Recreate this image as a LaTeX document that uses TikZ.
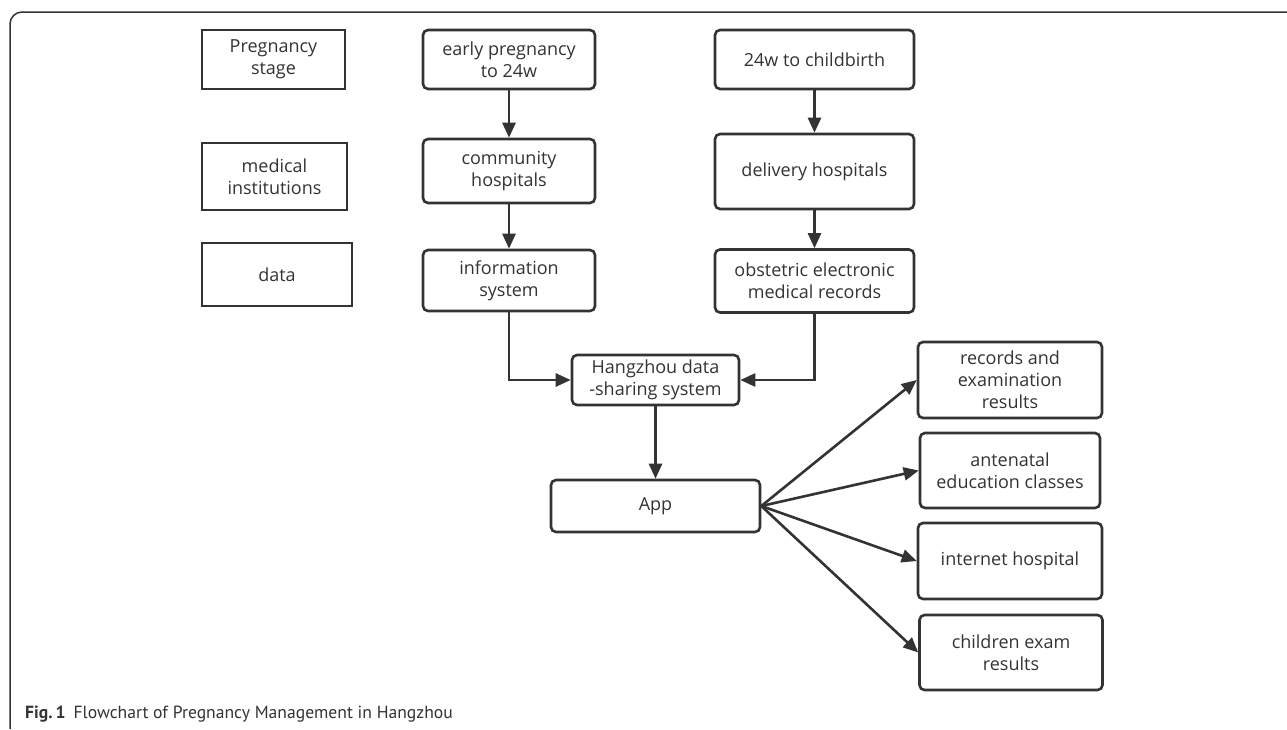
\documentclass[tikz,border=0pt]{standalone}
\usepackage{fontspec}
\setmainfont{Open Sans}
\newfontfamily\capfont{PT Sans}
\usepackage{tikz}
\usetikzlibrary{arrows.meta,positioning}

\definecolor{ink}{HTML}{333333}

\tikzset{
    stage/.style={draw=ink, text=ink, line width=2.6pt, align=center,
        minimum width=145pt, minimum height=60pt, inner sep=2pt, font=\fontsize{18}{22}\selectfont},
    box/.style={stage, rounded corners=5pt},
    link/.style={draw=ink, line width=2.6pt, -{Triangle[length=15pt,width=13pt]}}
}

\begin{document}
\begin{tikzpicture}[x=1pt, y=-1pt]
    \useasboundingbox (0, 0) rectangle (1287, 729);
    % frame
    \draw[ink, line width=1.5pt, rounded corners=12pt] (10, 729) -- (10, 12) -- (1287, 12);

    % row labels
    \node[stage, minimum width=143pt, minimum height=59pt] (stage) at (273.5, 59.5) {Pregnancy\\stage};
    \node[stage, minimum height=67pt] (inst) at (274.5, 176.5) {medical\\institutions};
    \node[stage, minimum width=150pt, minimum height=63pt] (data) at (277, 274.5) {data};

    % first half
    \node[box, minimum width=172pt, minimum height=59pt] (early) at (509, 59.5) {early pregnancy\\to 24w};
    \node[box, minimum width=172pt, minimum height=64pt] (comm) at (509, 171) {community\\hospitals};
    \node[box, minimum width=172pt, minimum height=61pt] (info) at (509, 280.5) {information\\system};

    % second half
    \node[box, minimum width=199pt, minimum height=59pt] (late) at (814.5, 59.5) {24w to childbirth};
    \node[box, minimum width=199pt, minimum height=75pt] (deliv) at (814.5, 171.5) {delivery hospitals};
    \node[box, minimum width=199pt, minimum height=63pt] (obst) at (814.5, 281) {obstetric electronic\\medical records};

    % shared system and app
    \node[box, minimum width=167pt, minimum height=50pt] (share) at (655.5, 380) {Hangzhou data\\-sharing system};
    \node[box, minimum width=209pt, minimum height=52pt] (app) at (655.5, 506) {App};

    % services
    \node[box, minimum width=184pt, minimum height=76pt] (rec) at (1010, 380) {records and\\examination\\results};
    \node[box, minimum width=180pt, minimum height=75pt] (edu) at (1010, 470.5) {antenatal\\education classes};
    \node[box, minimum width=184pt, minimum height=76pt] (net) at (1010, 561) {internet hospital};
    \node[box, minimum width=183pt, minimum height=75pt] (kids) at (1011, 652.5) {children exam\\results};

    \draw[link] (early) -- (comm);
    \draw[link] (comm) -- (info);
    \draw[link] (late) -- (deliv);
    \draw[link] (deliv) -- (obst);
    \draw[link] (info.south) |- (share.west);
    \draw[link] (obst.south) |- (share.east);
    \draw[link] (share) -- (app);
    \foreach \s in {rec, edu, net, kids}
        \draw[link] (app.east) -- (\s.west);

    % caption
    \node[anchor=base west, inner sep=0pt, text=ink, font=\capfont\fontsize{17.6}{20}\selectfont] (cap) at (25, 718)
        {\textbf{Fig.\,1}\hspace{8pt}Flowchart of Pregnancy Management in Hangzhou};
\end{tikzpicture}
\end{document}
